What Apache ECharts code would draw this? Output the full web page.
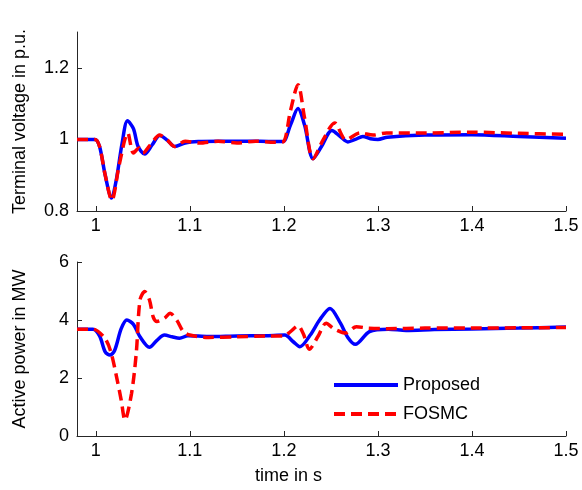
<!DOCTYPE html>
<html><head><meta charset="utf-8">
<script src="https://cdn.jsdelivr.net/npm/echarts@6/dist/echarts.min.js"></script>
<style>html,body{margin:0;padding:0;background:#fff}#c{width:582px;height:490px}</style>
</head><body><div id="c"></div>
<script>
// ---- data ----
const xTicks = [1, 1.1, 1.2, 1.3, 1.4, 1.5];
const vTicks = [0.8, 1, 1.2];
const pTicks = [0, 2, 4, 6];

const vPropT = [0.98,0.999,1.004,1.01,1.0167,1.022,1.028,1.0337,1.04,1.045,1.052,1.06,1.068,1.076,1.084,1.095,1.109,1.13,1.16,1.19,1.199,1.207,1.215,1.222,1.231,1.24,1.251,1.26,1.268,1.276,1.284,1.292,1.3,1.31,1.35,1.4,1.45,1.5];
const vPropV = [1.0,1.0,0.98,0.9,0.836,0.89,0.99,1.052,1.03,0.98,0.959,0.985,1.011,0.998,0.98,0.99,0.994,0.995,0.995,0.994,0.994,1.04,1.086,1.04,0.946,0.98,1.025,1.008,0.993,1.0,1.008,1.002,1.0,1.006,1.012,1.013,1.008,1.003];

const vFosT = [0.98,0.999,1.004,1.01,1.017,1.025,1.034,1.04,1.046,1.05,1.058,1.068,1.076,1.084,1.095,1.11,1.13,1.15,1.17,1.19,1.199,1.207,1.215,1.222,1.231,1.242,1.254,1.266,1.281,1.295,1.309,1.35,1.4,1.45,1.5];
const vFosV = [1.0,1.0,0.98,0.9,0.83,0.93,1.018,0.962,0.976,0.962,0.985,1.012,0.998,0.98,0.995,0.99,0.995,0.99,0.995,0.992,0.993,1.08,1.153,1.06,0.946,1.0,1.046,0.999,1.018,1.012,1.018,1.018,1.02,1.017,1.014];

const pPropT = [0.98,0.997,1.004,1.01,1.015,1.02,1.027,1.033,1.04,1.047,1.057,1.065,1.073,1.081,1.089,1.098,1.12,1.15,1.18,1.201,1.21,1.217,1.228,1.238,1.249,1.26,1.268,1.276,1.291,1.311,1.33,1.36,1.4,1.45,1.5];
const pPropV = [3.68,3.68,3.45,2.9,2.79,2.95,3.7,4.0,3.85,3.42,3.06,3.3,3.48,3.42,3.37,3.46,3.43,3.45,3.46,3.48,3.25,3.08,3.48,4.0,4.4,3.9,3.4,3.16,3.6,3.68,3.64,3.67,3.69,3.72,3.76];

const pFosT = [0.98,0.997,1.0096,1.016,1.022,1.027,1.031,1.038,1.043,1.047,1.052,1.057,1.061,1.065,1.073,1.079,1.086,1.093,1.1,1.12,1.15,1.18,1.2,1.207,1.215,1.221,1.227,1.236,1.245,1.253,1.266,1.277,1.29,1.31,1.35,1.4,1.45,1.5];
const pFosV = [3.68,3.68,3.37,2.9,2.05,1.24,0.55,1.47,2.85,4.69,4.98,4.7,4.11,3.95,4.06,4.23,4.0,3.6,3.48,3.4,3.42,3.45,3.45,3.6,3.8,3.5,2.99,3.42,3.89,3.7,3.55,3.77,3.72,3.7,3.72,3.72,3.73,3.74];

const seriesNames = ['Proposed', 'FOSMC'];
// ---- chart ----
const zip = (a, b) => a.map((t, i) => [t, b[i]]);
const fmt = v => String(+(+v).toFixed(2));
const FONT = 'Liberation Sans, Arial, Helvetica, sans-serif';
const axisCol = '#262626';
function xAx(gi, withName) {
  return {
    type: 'value', gridIndex: gi, min: 0.98, max: 1.5,
    axisLine: {show: true, onZero: false, lineStyle: {color: axisCol, width: 1}},
    axisTick: {show: true, inside: true, length: 5, customValues: xTicks, lineStyle: {color: axisCol}},
    axisLabel: {customValues: xTicks, formatter: fmt, fontSize: 18, color: '#000', fontFamily: FONT, margin: 6},
    splitLine: {show: false},
    name: withName ? 'time in s' : '', nameLocation: 'middle', nameGap: 31,
    nameTextStyle: {fontSize: 18, color: '#000', fontFamily: FONT, padding: [0, 66, 0, 0]}
  };
}
function yAx(gi, min, max, ticks, name) {
  return {
    type: 'value', gridIndex: gi, min: min, max: max,
    axisLine: {show: true, onZero: false, lineStyle: {color: axisCol, width: 1}},
    axisTick: {show: true, inside: true, length: 5, customValues: ticks, lineStyle: {color: axisCol}},
    axisLabel: {customValues: ticks, formatter: fmt, fontSize: 18, color: '#000', fontFamily: FONT, margin: 8},
    splitLine: {show: false},
    name: name, nameLocation: 'middle', nameGap: 48,
    nameTextStyle: {fontSize: 18, color: '#000', fontFamily: FONT}
  };
}
const blue = {color: '#0000ff', width: 3.5, type: 'solid'};
const red = {color: '#ff0000', width: 3.5, type: [11, 6]};
function ser(name, xi, data, ls, z) {
  return {name: name, type: 'line', xAxisIndex: xi, yAxisIndex: xi, data: data,
    smooth: 0.3, showSymbol: false, symbol: 'none', lineStyle: ls, itemStyle: {color: ls.color},
    animation: false, z: z};
}
const chart = echarts.init(document.getElementById('c'), null, {renderer: 'canvas'});
chart.setOption({
  backgroundColor: '#fff',
  animation: false,
  textStyle: {fontFamily: FONT},
  grid: [
    {left: 77, top: 32, width: 489, height: 179},
    {left: 77, top: 262, width: 489, height: 174}
  ],
  xAxis: [xAx(0, false), xAx(1, true)],
  yAxis: [yAx(0, 0.8, 1.3, vTicks, 'Terminal voltage in p.u.'), yAx(1, 0, 6, pTicks, 'Active power in MW')],
  legend: {
    data: seriesNames, orient: 'vertical', left: 327, top: 371,
    itemWidth: 64, itemHeight: 14, itemGap: 11,
    itemStyle: {opacity: 0},
    lineStyle: {width: 4},
    textStyle: {fontSize: 18, color: '#000', fontFamily: FONT},
    backgroundColor: '#fff'
  },
  series: [
    ser(seriesNames[0], 0, zip(vPropT, vPropV), blue, 2),
    ser(seriesNames[1], 0, zip(vFosT, vFosV), red, 3),
    ser(seriesNames[0], 1, zip(pPropT, pPropV), blue, 2),
    ser(seriesNames[1], 1, zip(pFosT, pFosV), red, 3)
  ]
});
</script></body></html>
